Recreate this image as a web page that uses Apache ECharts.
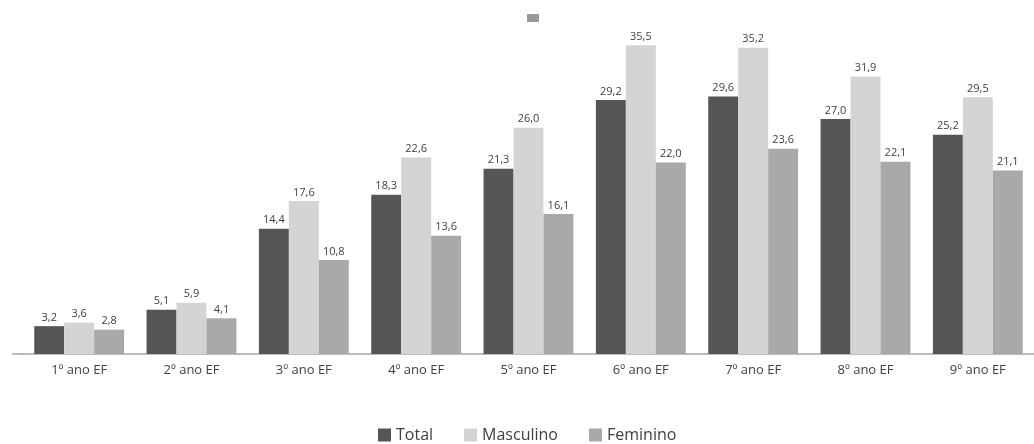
<!DOCTYPE html>
<html>
<head>
<meta charset="utf-8">
<script src="https://cdn.jsdelivr.net/npm/echarts@6/dist/echarts.min.js"></script>
<style>
  html, body { margin: 0; padding: 0; background: #fff; }
  #chart { width: 1034px; height: 444px; }
</style>
</head>
<body>
<div id="chart"></div>
<script>
// School years (Ensino Fundamental)
const categories = ['1º ano EF', '2º ano EF', '3º ano EF', '4º ano EF', '5º ano EF', '6º ano EF', '7º ano EF', '8º ano EF', '9º ano EF'];
const total     = [3.2, 5.1, 14.4, 18.3, 21.3, 29.2, 29.6, 27.0, 25.2];
const masculino = [3.6, 5.9, 17.6, 22.6, 26.0, 35.5, 35.2, 31.9, 29.5];
const feminino  = [2.8, 4.1, 10.8, 13.6, 16.1, 22.0, 23.6, 22.1, 21.1];

const fontFamily = '"Open Sans", "Noto Sans", sans-serif';
const fmt = p => p.value.toFixed(1).replace('.', ',');

function barSeries(name, data, color) {
  return {
    name: name,
    type: 'bar',
    data: data,
    barGap: '0%',
    barCategoryGap: '20%',
    itemStyle: { color: color },
    label: {
      show: true,
      position: 'top',
      distance: 3,
      formatter: fmt,
      color: '#404040',
      fontSize: 11,
      fontFamily: fontFamily
    }
  };
}

const chart = echarts.init(document.getElementById('chart'), null, { renderer: 'canvas' });
chart.setOption({
  animation: false,
  backgroundColor: '#ffffff',
  textStyle: { fontFamily: fontFamily },
  grid: { left: 23, right: 0, top: 6, bottom: 90, containLabel: false },
  legend: {
    top: 427,
    left: 378,
    padding: 0,
    itemWidth: 13,
    itemHeight: 13,
    itemGap: 31,
    icon: 'rect',
    textStyle: { color: '#404040', fontSize: 16, fontFamily: fontFamily },
    data: ['Total', 'Masculino', 'Feminino']
  },
  xAxis: {
    type: 'category',
    data: categories,
    axisLine: { show: true, lineStyle: { color: '#a6a6a6', width: 1.5 } },
    axisTick: { show: false },
    axisLabel: { color: '#404040', fontSize: 13, margin: 10, fontFamily: fontFamily }
  },
  yAxis: {
    type: 'value',
    min: 0,
    max: 40,
    show: false,
    splitLine: { show: false }
  },
  graphic: [
    { type: 'line', shape: { x1: 12, y1: 354, x2: 24, y2: 354 }, style: { stroke: '#a6a6a6', lineWidth: 1.5 } },
    { type: 'rect', left: 527, top: 14, shape: { width: 12, height: 8 }, style: { fill: '#999999' } }
  ],
  series: [
    barSeries('Total', total, '#555555'),
    barSeries('Masculino', masculino, '#d4d4d4'),
    barSeries('Feminino', feminino, '#a9a9a9')
  ]
});
</script>
</body>
</html>
